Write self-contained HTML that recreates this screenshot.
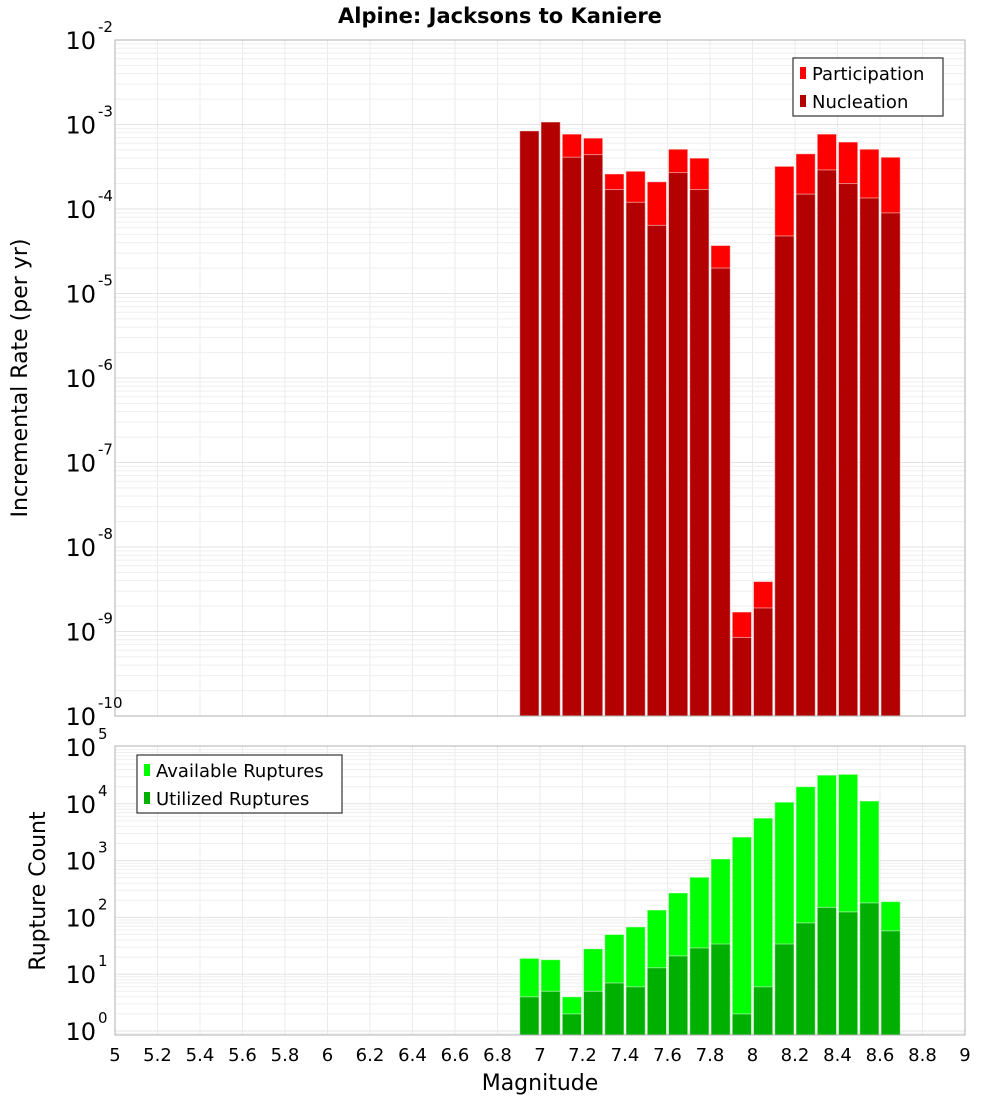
<!DOCTYPE html>
<html><head><meta charset="utf-8"><style>
body{margin:0;background:#fff;}
svg{display:block;font-family:"DejaVu Sans","Liberation Sans",sans-serif;}
</style></head><body>
<svg id="chart" width="1000" height="1100" xmlns="http://www.w3.org/2000/svg">
<text x="500" y="23" text-anchor="middle" font-size="21" font-weight="bold">Alpine: Jacksons to Kaniere</text>
<text transform="translate(27,378) rotate(-90)" text-anchor="middle" font-size="22">Incremental Rate (per yr)</text>
<text transform="translate(45,891) rotate(-90)" text-anchor="middle" font-size="22">Rupture Count</text>
<text x="540" y="1090" text-anchor="middle" font-size="22">Magnitude</text>
<g id="top"></g>
<g id="bot"></g>
<g id="xt"></g>
</svg>
<script>
const mags = [6.95,7.05,7.15,7.25,7.35,7.45,7.55,7.65,7.75,7.85,7.95,8.05,8.15,8.25,8.35,8.45,8.55,8.65];
const participation = [8.4e-4,1.07e-3,7.7e-4,6.9e-4,2.6e-4,2.8e-4,2.1e-4,5.1e-4,4.0e-4,3.7e-5,1.7e-9,3.9e-9,3.2e-4,4.5e-4,7.7e-4,6.2e-4,5.1e-4,4.1e-4];
const nucleation = [8.4e-4,1.07e-3,4.1e-4,4.4e-4,1.7e-4,1.2e-4,6.4e-5,2.7e-4,1.7e-4,2.0e-5,8.5e-10,1.9e-9,4.8e-5,1.5e-4,2.9e-4,2.0e-4,1.35e-4,9.0e-5];
const available = [19,18,4,28,50,68,135,270,510,1070,2600,5600,10700,20000,32000,33000,11200,190];
const utilized = [4,5,2,5,7,6,13,21,29,34,2,6,34,80,150,125,180,58];
const xTicks = ["5","5.2","5.4","5.6","5.8","6","6.2","6.4","6.6","6.8","7","7.2","7.4","7.6","7.8","8","8.2","8.4","8.6","8.8","9"];
const topExps = [-10,-9,-8,-7,-6,-5,-4,-3,-2];
const botExps = [0,1,2,3,4,5];

const NS="http://www.w3.org/2000/svg";
const X0=115,X1=965;
const xS=m=>X0+(m-5)*(X1-X0)/4;
function el(tag,attrs,parent,txt){const e=document.createElementNS(NS,tag);for(const k in attrs)e.setAttribute(k,attrs[k]);if(txt!==undefined)e.textContent=txt;parent.appendChild(e);return e;}

function panel(g,top,bottom,yTop,yBot,exps,axisMin,series,colors,legend,lx,ly,lw){
  const yS=v=>yTop+(Math.log10(v)-exps[exps.length-1])*-(yBot-yTop)/(exps[exps.length-1]-exps[0]);
  // grid
  for(let i=0;i<=20;i++){const x=xS(5+i*0.2);const l=el('line',{x1:x,x2:x,y1:top,y2:bottom,stroke:'#ebebeb','stroke-width':1},g);}
  for(let e=exps[0]-1;e<exps[exps.length-1];e++){for(let k=1;k<10;k++){const y=yS(k*Math.pow(10,e));if(y<top||y>bottom)continue;const l=el('line',{x1:X0,x2:X1,y1:y,y2:y,stroke:k==1?'#e3e3e3':'#efefef','stroke-width':1},g);}}
  // bars
  series.forEach((s,si)=>{s.forEach((v,i)=>{const xl=xS(mags[i]-0.05)+1,xr=xS(mags[i]+0.05)-1;const y=yS(v);const r=el('rect',{x:xl,y:y,width:xr-xl,height:bottom-y,fill:colors[si],stroke:'#fff','stroke-opacity':0.5,'stroke-width':1},g);});});
  const fr=el('rect',{x:X0,y:top,width:X1-X0,height:bottom-top,fill:'none',stroke:'#b0b0b0','stroke-width':1},g);
  exps.forEach(e=>{const y=yS(Math.pow(10,e));const t=el('text',{x:96,y:y+9,'text-anchor':'end','font-size':24},g);t.textContent='10';const s=el('tspan',{x:98,dy:-17,'font-size':15,'text-anchor':'start'},g);t.appendChild(s);s.textContent=String(e);});
  const lg=el('g',{},g);
  el('rect',{x:lx,y:ly,width:lw,height:58,fill:'#fff',stroke:'#333','stroke-width':1.2},lg);
  legend.forEach((n,i)=>{const it=el('g',{},lg);el('rect',{x:lx+7,y:ly+9+i*28,width:6,height:12,fill:colors[i]},it);el('text',{x:lx+19,y:ly+22+i*28,'font-size':18},it,n);});
}
panel(document.getElementById('top'),40,716,40,716,topExps,0,[participation,nucleation],['#ff0000','#b30000'],['Participation','Nucleation'],793,58,150);
panel(document.getElementById('bot'),746,1035,747,1031,botExps,0,[available,utilized],['#00ff00','#00b000'],['Available Ruptures','Utilized Ruptures'],137,755,205);
const xt=document.getElementById('xt');
xTicks.forEach(t=>{const e=el('text',{x:xS(parseFloat(t)),y:1061,'text-anchor':'middle','font-size':18},xt,t);});
</script>
</body></html>
